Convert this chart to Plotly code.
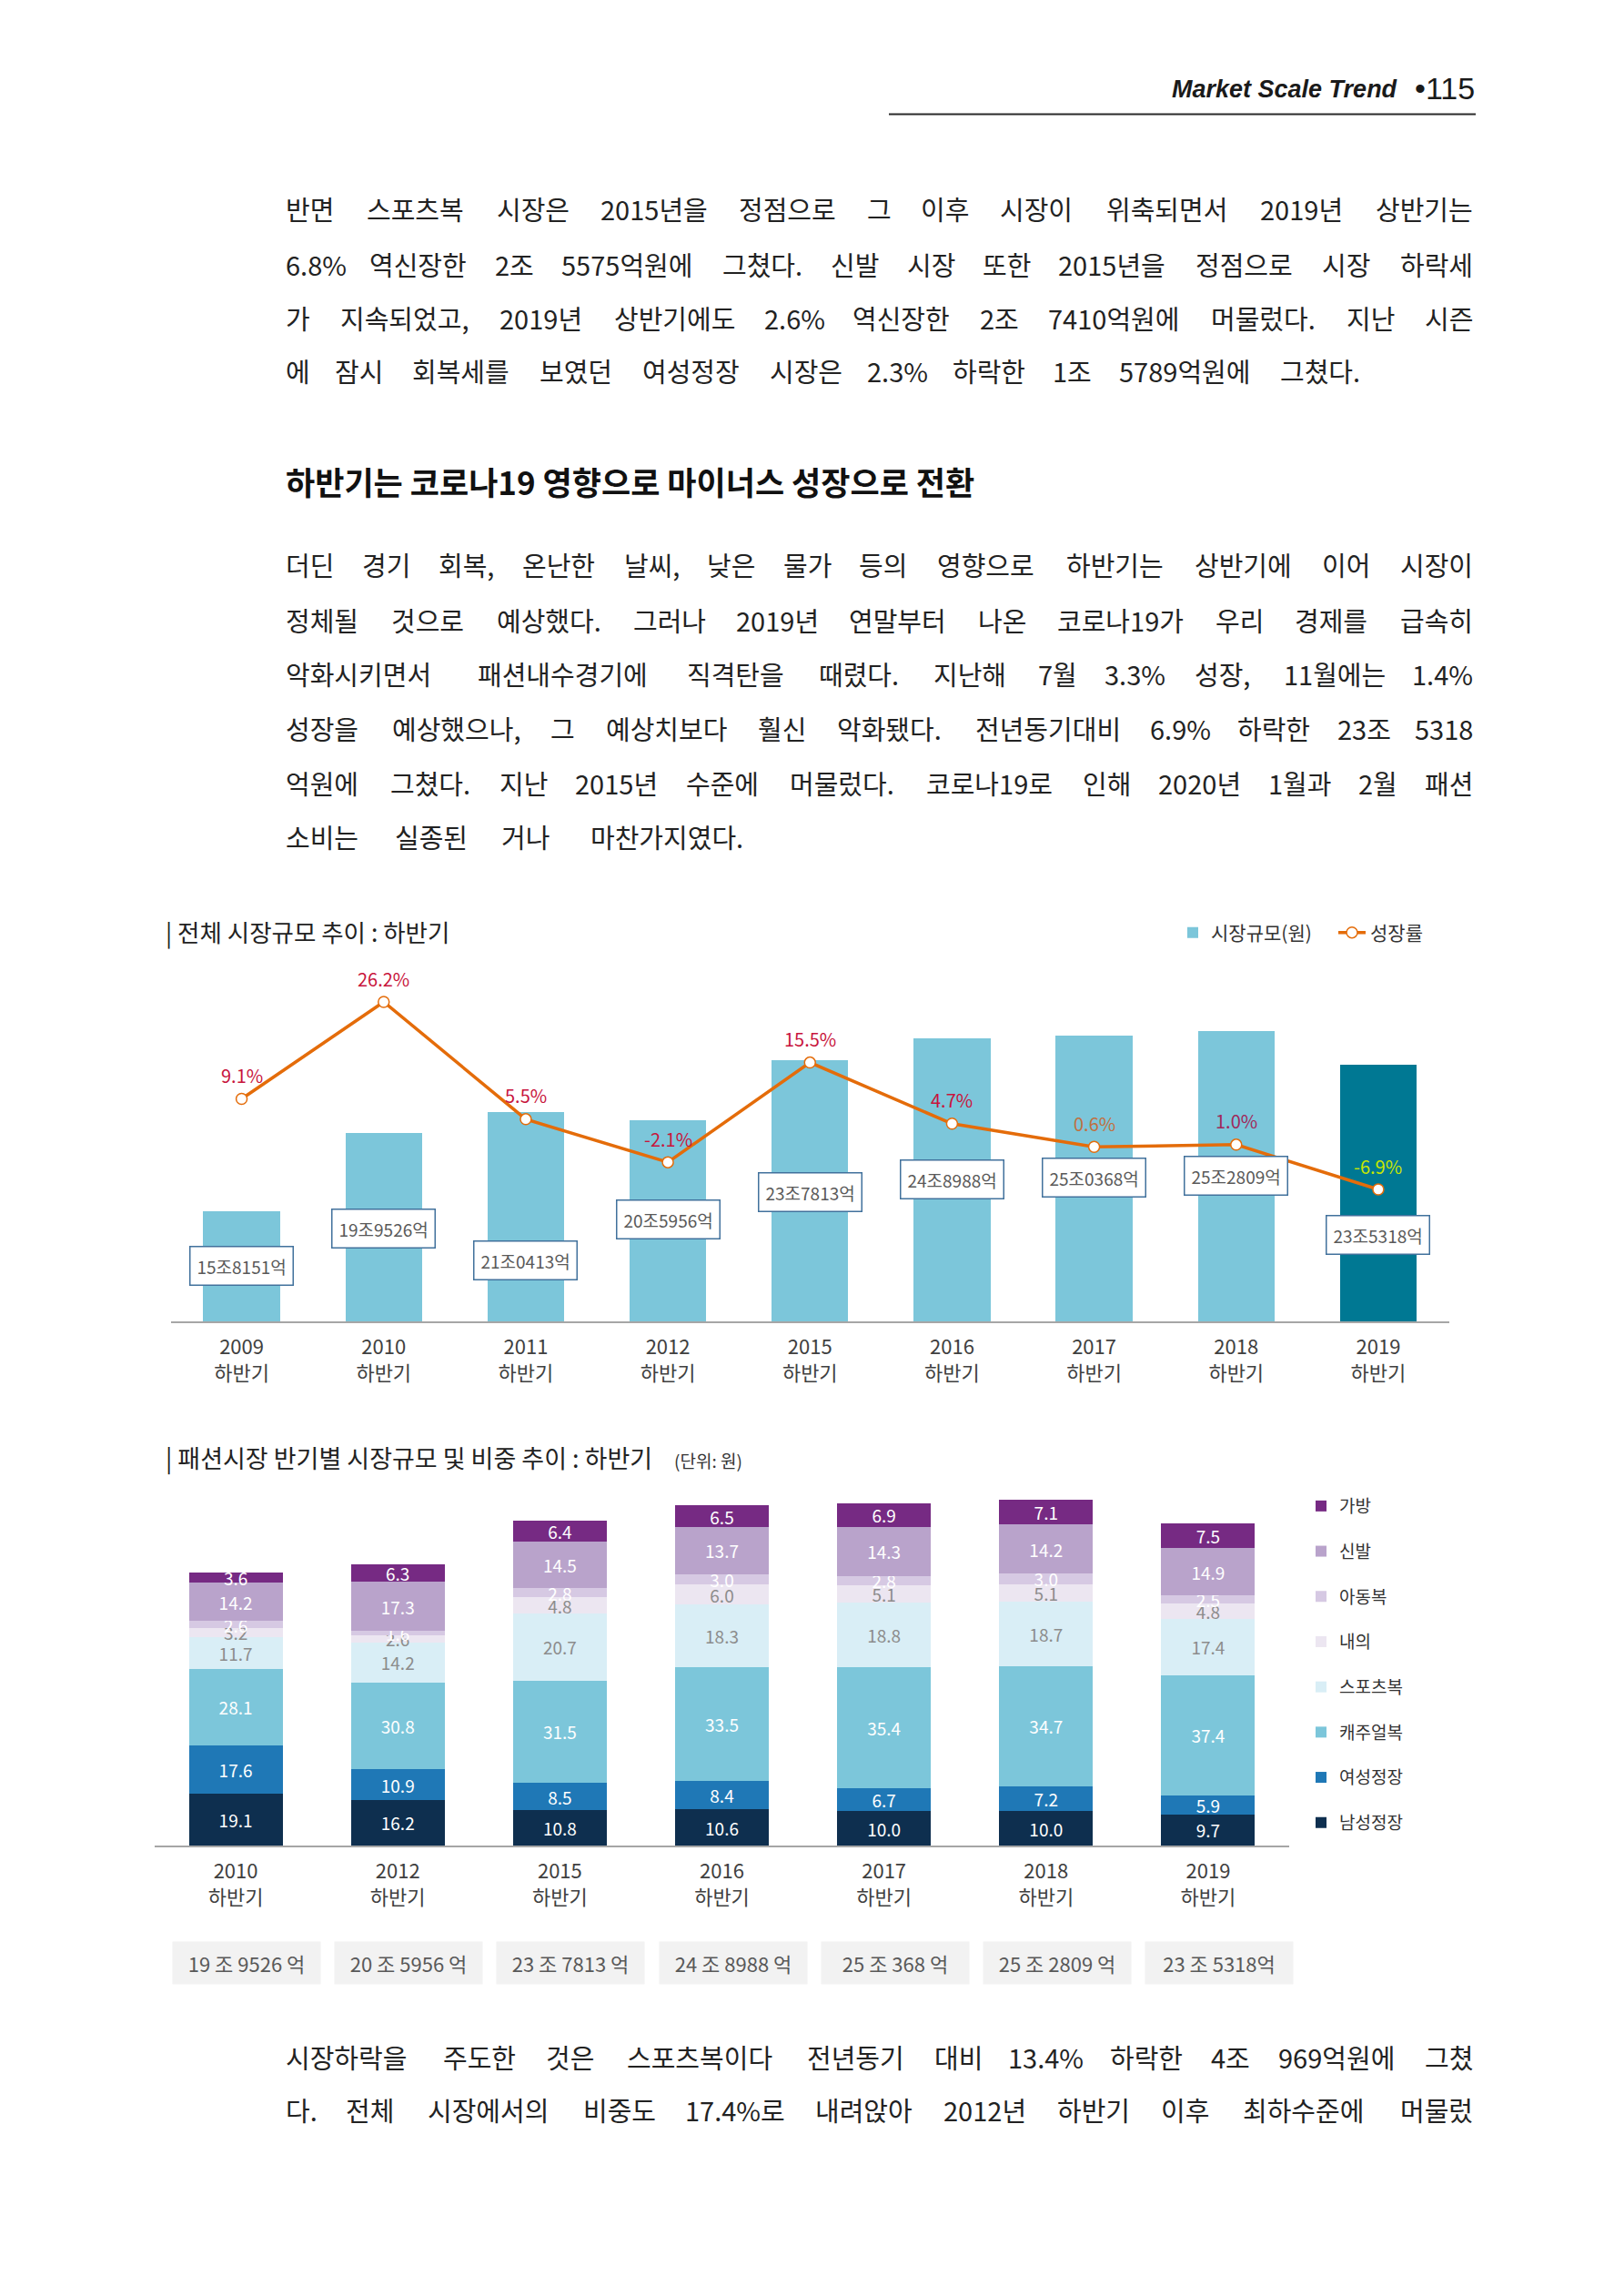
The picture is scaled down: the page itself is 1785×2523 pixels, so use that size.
import plotly.graph_objects as go

W, H = 1785, 2523


def px(x):
    return x / W


def py(y):
    return 1 - y / H


# ---------------- data ----------------
years1 = ['2009', '2010', '2011', '2012', '2015', '2016', '2017', '2018', '2019']
market1_eok = [158151, 199526, 210413, 205956, 237813, 248988, 250368, 252809, 235318]
growth1 = [9.1, 26.2, 5.5, -2.1, 15.5, 4.7, 0.6, 1.0, -6.9]
half_label = '하반기'

years2 = ['2010', '2012', '2015', '2016', '2017', '2018', '2019']
market2_eok = [199526, 205956, 237813, 248988, 250368, 252809, 235318]
total_labels2 = ['19 조 9526 억', '20 조 5956 억', '23 조 7813 억', '24 조 8988 억',
                 '25 조 368 억', '25 조 2809 억', '23 조 5318억']
segments = ['남성정장', '여성정장', '캐주얼복', '스포츠복', '내의', '아동복', '신발', '가방']
share_mens = [19.1, 16.2, 10.8, 10.6, 10.0, 10.0, 9.7]
share_womens = [17.6, 10.9, 8.5, 8.4, 6.7, 7.2, 5.9]
share_casual = [28.1, 30.8, 31.5, 33.5, 35.4, 34.7, 37.4]
share_sports = [11.7, 14.2, 20.7, 18.3, 18.8, 18.7, 17.4]
share_inner = [3.2, 2.6, 4.8, 6.0, 5.1, 5.1, 4.8]
share_kids = [2.6, 1.6, 2.8, 3.0, 2.8, 3.0, 2.5]
share_shoes = [14.2, 17.3, 14.5, 13.7, 14.3, 14.2, 14.9]
share_bags = [3.6, 6.3, 6.4, 6.5, 6.9, 7.1, 7.5]
shares = [share_mens, share_womens, share_casual, share_sports,
          share_inner, share_kids, share_shoes, share_bags]

header_title = 'Market Scale Trend'
page_no = '115'
chart1_title = '| 전체 시장규모 추이 : 하반기'
chart2_title = '| 패션시장 반기별 시장규모 및 비중 추이 : 하반기'
chart2_unit = '(단위: 원)'
heading = '하반기는 코로나19 영향으로 마이너스 성장으로 전환'
para1 = [
    '반면 스포츠복 시장은 2015년을 정점으로 그 이후 시장이 위축되면서 2019년 상반기는',
    '6.8% 역신장한 2조 5575억원에 그쳤다. 신발 시장 또한 2015년을 정점으로 시장 하락세',
    '가 지속되었고, 2019년 상반기에도 2.6% 역신장한 2조 7410억원에 머물렀다. 지난 시즌',
    '에 잠시 회복세를 보였던 여성정장 시장은 2.3% 하락한 1조 5789억원에 그쳤다.',
]
para2 = [
    '더딘 경기 회복, 온난한 날씨, 낮은 물가 등의 영향으로 하반기는 상반기에 이어 시장이',
    '정체될 것으로 예상했다. 그러나 2019년 연말부터 나온 코로나19가 우리 경제를 급속히',
    '악화시키면서 패션내수경기에 직격탄을 때렸다. 지난해 7월 3.3% 성장, 11월에는 1.4%',
    '성장을 예상했으나, 그 예상치보다 훨신 악화됐다. 전년동기대비 6.9% 하락한 23조 5318',
    '억원에 그쳤다. 지난 2015년 수준에 머물렀다. 코로나19로 인해 2020년 1월과 2월 패션',
    '소비는 실종된 거나 마찬가지였다.',
]
para3 = [
    '시장하락을 주도한 것은 스포츠복이다 전년동기 대비 13.4% 하락한 4조 969억원에 그쳤',
    '다. 전체 시장에서의 비중도 17.4%로 내려앉아 2012년 하반기 이후 최하수준에 머물렀',
]

# ---------------- styles ----------------
FONT = 'Noto Sans CJK KR'
bar1_colors = ['#7cc6da'] * 8 + ['#007893']
growth_label_colors = ['#c8143c'] * 6 + ['#c0703f', '#a0285a', '#c8e600']
label1_offsets = [60, 105, 163, 109, 145, 155, 156, 159, 187]
seg_colors = ['#0e2f4f', '#1f78b6', '#7cc6da', '#d9eef6', '#ece6f1', '#d6c9e3', '#b9a3cb', '#762a83']
seg_text_colors = ['white', 'white', 'white', '#8c8c8c', '#8c8c8c', 'white', 'white', 'white']

fig = go.Figure()

# ---------------- chart 1 ----------------
fig.add_trace(go.Bar(
    x=years1, y=[v / 10000 for v in market1_eok], width=0.54,
    marker=dict(color=bar1_colors, line=dict(width=0)),
    name='시장규모(원)', legend='legend', legendrank=1,
    xaxis='x', yaxis='y', hoverinfo='skip'))
fig.add_trace(go.Scatter(
    x=years1, y=growth1, mode='lines+markers', xaxis='x', yaxis='y2',
    line=dict(color='#e46c0a', width=3.5),
    marker=dict(size=12, color='white', line=dict(color='#e46c0a', width=1.5)),
    name='성장률', legend='legend', legendrank=2, hoverinfo='skip'))

# ---------------- chart 2 ----------------
for i, seg in enumerate(segments):
    fig.add_trace(go.Bar(
        x=years2, y=[s * m / 1e6 for s, m in zip(shares[i], market2_eok)],
        text=[f'{s:.1f}' for s in shares[i]], textposition='inside',
        insidetextanchor='middle', textangle=0,
        textfont=dict(family=FONT, size=19, color=seg_text_colors[i]),
        width=0.578, marker=dict(color=seg_colors[i], line=dict(width=0)),
        name=seg, legend='legend2', legendgroup=seg, legendrank=len(segments) - i,
        xaxis='x2', yaxis='y3', hoverinfo='skip'))

annotations = []
shapes = []


def ann(text, x, y, size, color='#222', anchor='left', weight='normal', family=FONT,
        style='normal', yanchor='middle'):
    annotations.append(dict(
        text=text, x=px(x), y=py(y), xref='paper', yref='paper', showarrow=False,
        xanchor=anchor, yanchor=yanchor,
        font=dict(family=family, size=size, color=color, weight=weight, style=style)))


def est_width(s, fs):
    w = 0.0
    for ch in s:
        if '\uac00' <= ch <= '\ud7a3':
            w += 1.0
        elif ch.isdigit():
            w += 0.554
        elif ch == '%':
            w += 0.84
        elif ch in '.,':
            w += 0.27
        elif ch == ' ':
            w += 0.224
        elif ch in '()':
            w += 0.33
        else:
            w += 0.6
    return w * fs


def justified(text, y, x0, x1, fs, color='#222'):
    words = text.split(' ')
    widths = [est_width(w, fs) for w in words]
    n = len(words)
    gap = (x1 - x0 - sum(widths)) / (n - 1)
    x = x0
    for i, (w, wd) in enumerate(zip(words, widths)):
        if i == 0:
            ann(w, x0, y, fs, color, 'left')
        elif i == n - 1:
            ann(w, x1, y, fs, color, 'right')
        else:
            ann(w, x + wd / 2, y, fs, color, 'center')
        x += wd + gap


# header
ann(header_title, 1538, 98, 27, '#1a1a1a', 'right', 'bold', 'Liberation Sans', 'italic')
ann('•' + page_no, 1623, 97, 34, '#1a1a1a', 'right', 'normal', 'Liberation Sans')
shapes.append(dict(type='line', xref='paper', yref='paper', x0=px(977), x1=px(1622),
                   y0=py(125.5), y1=py(125.5), line=dict(color='#2a2a2a', width=2)))

BODY_FS = 29
L, R = 312, 1621
p1_y = [228.6, 289.7, 349.3, 407.2]
p1_right = [R, R, R, 1497]
for t, y, r in zip(para1, p1_y, p1_right):
    justified(t, y, L, r, BODY_FS)
ann(heading, L, 528, 35, '#111', 'left', 'bold')
p2_y = [619.7, 680.9, 740.4, 800.0, 859.5, 919.1]
p2_right = [R, R, R, R, R, 819]
for t, y, r in zip(para2, p2_y, p2_right):
    justified(t, y, L, r, BODY_FS)
p3_y = [2259.9, 2317.8]
for t, y in zip(para3, p3_y):
    justified(t, y, L, R, BODY_FS)

# chart titles
ann(chart1_title, 180, 1024, 26.5, '#222')
ann(chart2_title, 180, 1602, 27, '#222')
ann(chart2_unit, 739, 1604, 19, '#333')

# chart 1 value boxes and growth labels (x as category index on the axis)
for i, (v, off) in enumerate(zip(market1_eok, label1_offsets)):
    annotations.append(dict(
        text=f'{v // 10000}조{v % 10000:04d}억', x=i, y=v / 10000, xref='x', yref='y',
        yshift=-off, showarrow=False, xanchor='center', yanchor='middle',
        font=dict(family=FONT, size=19, color='#595959'),
        bgcolor='white', bordercolor='#41719c', borderwidth=1.5, borderpad=7))
for i, (g, c) in enumerate(zip(growth1, growth_label_colors)):
    annotations.append(dict(
        text=f'{g:.1f}%', x=i, y=g, xref='x', yref='y2', yshift=26, showarrow=False,
        xanchor='center', yanchor='middle', font=dict(family=FONT, size=20, color=c)))

# chart 2 total boxes
for i, t in enumerate(total_labels2):
    annotations.append(dict(
        text=t, x=i, y=py(2157), xref='x2', yref='paper', xshift=12, showarrow=False,
        xanchor='center', yanchor='middle', width=160, height=44,
        font=dict(family=FONT, size=22, color='#595959'), bgcolor='#f2f2f2'))

# axes geometry
c1_left, c1_right, c1_base, c1_top = 187.5, 1593, 1452, 1060
bar_slope, bar_v0 = 20.915, 10.043
y1_range = [bar_v0, bar_v0 + (c1_base - c1_top) / bar_slope]
g_slope, g_ref, g_ref_px = 6.224, 26.2, 1101
y2_range = [g_ref - (c1_base - g_ref_px) / g_slope, g_ref + (g_ref_px - c1_top) / g_slope]

c2_left, c2_right, c2_base, c2_top = 170, 1417, 2028, 1630
c2_slope = 15.02
y3_range = [0, (c2_base - c2_top) / c2_slope]

tickfont = dict(family=FONT, size=22, color='#404040')

fig.update_layout(
    width=W, height=H, margin=dict(l=0, r=0, t=0, b=0),
    paper_bgcolor='white', plot_bgcolor='rgba(0,0,0,0)',
    barmode='stack', bargap=0.4,
    uniformtext=dict(minsize=19, mode='show'),
    font=dict(family=FONT, color='#333'),
    xaxis=dict(domain=[px(c1_left), px(c1_right)], anchor='y', type='category',
               range=[-0.5, len(years1) - 0.5], tickvals=years1,
               ticktext=[f'{y}<br>{half_label}' for y in years1],
               tickfont=tickfont, ticks='', showgrid=False, zeroline=False,
               showline=True, linecolor='#a6a6a6', linewidth=2, ticklabelstandoff=8),
    yaxis=dict(domain=[py(c1_base), py(c1_top)], anchor='x', range=y1_range,
               visible=False, showgrid=False, zeroline=False),
    yaxis2=dict(domain=[py(c1_base), py(c1_top)], anchor='x', overlaying='y',
                range=y2_range, visible=False, showgrid=False, zeroline=False),
    xaxis2=dict(domain=[px(c2_left), px(c2_right)], anchor='y3', type='category',
                range=[-0.5, len(years2) - 0.5], tickvals=years2,
                ticktext=[f'{y}<br>{half_label}' for y in years2],
                tickfont=tickfont, ticks='', showgrid=False, zeroline=False,
                showline=True, linecolor='#a6a6a6', linewidth=2, ticklabelstandoff=8),
    yaxis3=dict(domain=[py(c2_base), py(c2_top)], anchor='x2', range=y3_range,
                visible=False, showgrid=False, zeroline=False),
    legend=dict(orientation='h', x=px(1291), y=py(1025), xanchor='left', yanchor='middle',
                font=dict(family=FONT, size=21, color='#333'), bgcolor='rgba(0,0,0,0)',
                itemwidth=30, traceorder='normal', entrywidth=130),
    legend2=dict(orientation='v', x=px(1432), y=py(1636), xanchor='left', yanchor='top',
                 font=dict(family=FONT, size=19, color='#333'), bgcolor='rgba(0,0,0,0)',
                 traceorder='grouped', tracegroupgap=22, itemwidth=30),
    annotations=annotations, shapes=shapes,
)

fig.write_html('out.html', config={'displayModeBar': False})
